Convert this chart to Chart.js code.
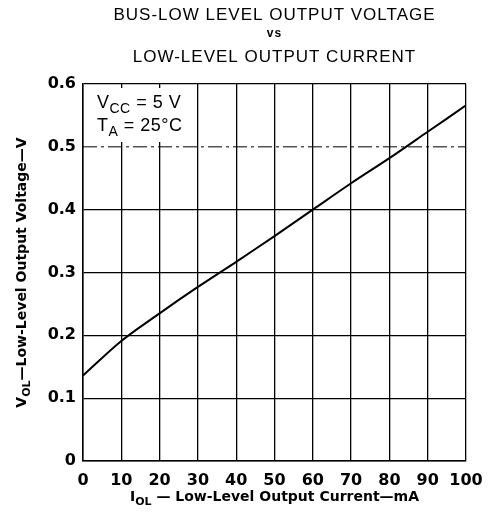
<!DOCTYPE html>
<html>
<head>
<meta charset="utf-8">
<script src="https://cdn.jsdelivr.net/npm/chart.js@4/dist/chart.umd.min.js"></script>
<style>
  html, body { margin: 0; padding: 0; background: #fff; }
</style>
</head>
<body>
<canvas id="chart" width="493" height="517"></canvas>
<script>
// Data
const currents = [0, 10, 20, 30, 40, 50, 60, 70, 80, 90, 100];
const voltages = [0.136, 0.191, 0.235, 0.277, 0.317, 0.358, 0.400, 0.442, 0.482, 0.524, 0.566];
const xTickValues = [0, 10, 20, 30, 40, 50, 60, 70, 80, 90, 100];
const yTickValues = [0, 0.1, 0.2, 0.3, 0.4, 0.5, 0.6];
const titleLines = ['BUS-LOW LEVEL OUTPUT VOLTAGE', 'vs', 'LOW-LEVEL OUTPUT CURRENT'];
const dashedLevel = 0.5;

const FONT = '"Liberation Sans", Arial, sans-serif';
const BOLD = '"DejaVu Sans", sans-serif';

// draw text made of normal and subscript pieces
function richText(ctx, parts, x, y, size, weight, family, align) {
  const widths = parts.map(p => {
    ctx.font = `${weight} ${p.sub ? Math.round(size * 0.75) : size}px ${family}`;
    return ctx.measureText(p.t).width;
  });
  const total = widths.reduce((a, b) => a + b, 0);
  let cx = align === 'center' ? x - total / 2 : x;
  parts.forEach((p, i) => {
    ctx.font = `${weight} ${p.sub ? Math.round(size * 0.75) : size}px ${family}`;
    ctx.fillText(p.t, cx, p.sub ? y + size * 0.3 : y);
    cx += widths[i];
  });
  return total;
}

const decor = {
  id: 'decor',
  beforeDatasetsDraw(chart) {
    const { ctx, chartArea: a, scales } = chart;
    ctx.save();
    // dash-dot gridline
    const y5 = scales.y.getPixelForValue(dashedLevel);
    ctx.strokeStyle = '#000';
    ctx.lineWidth = 1;
    ctx.setLineDash([14, 4, 3, 4]);
    ctx.beginPath();
    ctx.moveTo(a.left, y5);
    ctx.lineTo(a.right, y5);
    ctx.stroke();
    ctx.setLineDash([]);
    // conditions box
    ctx.fillStyle = '#fff';
    ctx.fillRect(a.left + 8, a.top + 4, 102, 54);
    ctx.fillStyle = '#000';
    ctx.textBaseline = 'alphabetic';
    ctx.textAlign = 'left';
    ctx.letterSpacing = '0.5px';
    richText(ctx, [{ t: 'V' }, { t: 'CC', sub: true }, { t: ' = 5 V' }], a.left + 14, a.top + 24, 18, 'normal', FONT);
    richText(ctx, [{ t: 'T' }, { t: 'A', sub: true }, { t: ' = 25°C' }], a.left + 14, a.top + 47, 18, 'normal', FONT);
    ctx.restore();
  },
  afterDraw(chart) {
    const { ctx, chartArea: a } = chart;
    ctx.save();
    ctx.fillStyle = '#000';
    ctx.textAlign = 'center';
    ctx.textBaseline = 'middle';
    ctx.letterSpacing = '1px';
    ctx.font = `normal 17px ${FONT}`;
    const cx = (a.left + a.right) / 2;
    ctx.fillText(titleLines[0], cx, 15);
    ctx.font = `bold 12px ${FONT}`;
    ctx.fillText(titleLines[1], cx, 34);
    ctx.font = `normal 17px ${FONT}`;
    ctx.fillText(titleLines[2], cx, 57);
    // axis titles
    ctx.letterSpacing = '0px';
    ctx.textAlign = 'left';
    ctx.textBaseline = 'alphabetic';
    richText(ctx, [{ t: 'I' }, { t: 'OL', sub: true }, { t: ' — Low-Level Output Current—mA' }], cx, 501, 14, 'bold', BOLD, 'center');
    ctx.translate(26, (a.top + a.bottom) / 2);
    ctx.rotate(-Math.PI / 2);
    richText(ctx, [{ t: 'V' }, { t: 'OL', sub: true }, { t: '—Low-Level Output Voltage—V' }], 0, 0, 14, 'bold', BOLD, 'center');
    ctx.restore();
  }
};

new Chart(document.getElementById('chart'), {
  type: 'line',
  data: {
    datasets: [{
      data: currents.map((c, i) => ({ x: c, y: voltages[i] })),
      borderColor: '#000',
      borderWidth: 2,
      pointRadius: 0,
      tension: 0.3,
      fill: false
    }]
  },
  options: {
    responsive: false,
    animation: false,
    layout: { padding: { top: 84, right: 27, left: 0, bottom: 0 } },
    plugins: { legend: { display: false }, tooltip: { enabled: false } },
    scales: {
      x: {
        type: 'linear',
        min: 0, max: 100,
        afterFit: s => { s.height = 56; },
        afterBuildTicks: s => { s.ticks = xTickValues.map(v => ({ value: v })); },
        ticks: {
          color: '#000', padding: 10, maxRotation: 0, minRotation: 0, autoSkip: false,
          font: { family: BOLD, weight: 'bold', size: 16 }
        },
        grid: { color: '#000', lineWidth: 1.3, drawTicks: false },
        border: { color: '#000', width: 1.5 }
      },
      y: {
        type: 'linear',
        min: 0, max: 0.6,
        afterFit: s => { s.width = 83; },
        afterBuildTicks: s => { s.ticks = yTickValues.map(v => ({ value: v })); },
        ticks: {
          color: '#000', padding: 7, autoSkip: false,
          font: { family: BOLD, weight: 'bold', size: 16 },
          callback: v => v === 0 ? '0' : v.toFixed(1)
        },
        grid: {
          color: c => (c.tick && Math.abs(c.tick.value - dashedLevel) < 1e-6) ? 'rgba(0,0,0,0)' : '#000',
          lineWidth: 1.3, drawTicks: false
        },
        border: { color: '#000', width: 1.5 }
      }
    }
  },
  plugins: [decor]
});
</script>
</body>
</html>
